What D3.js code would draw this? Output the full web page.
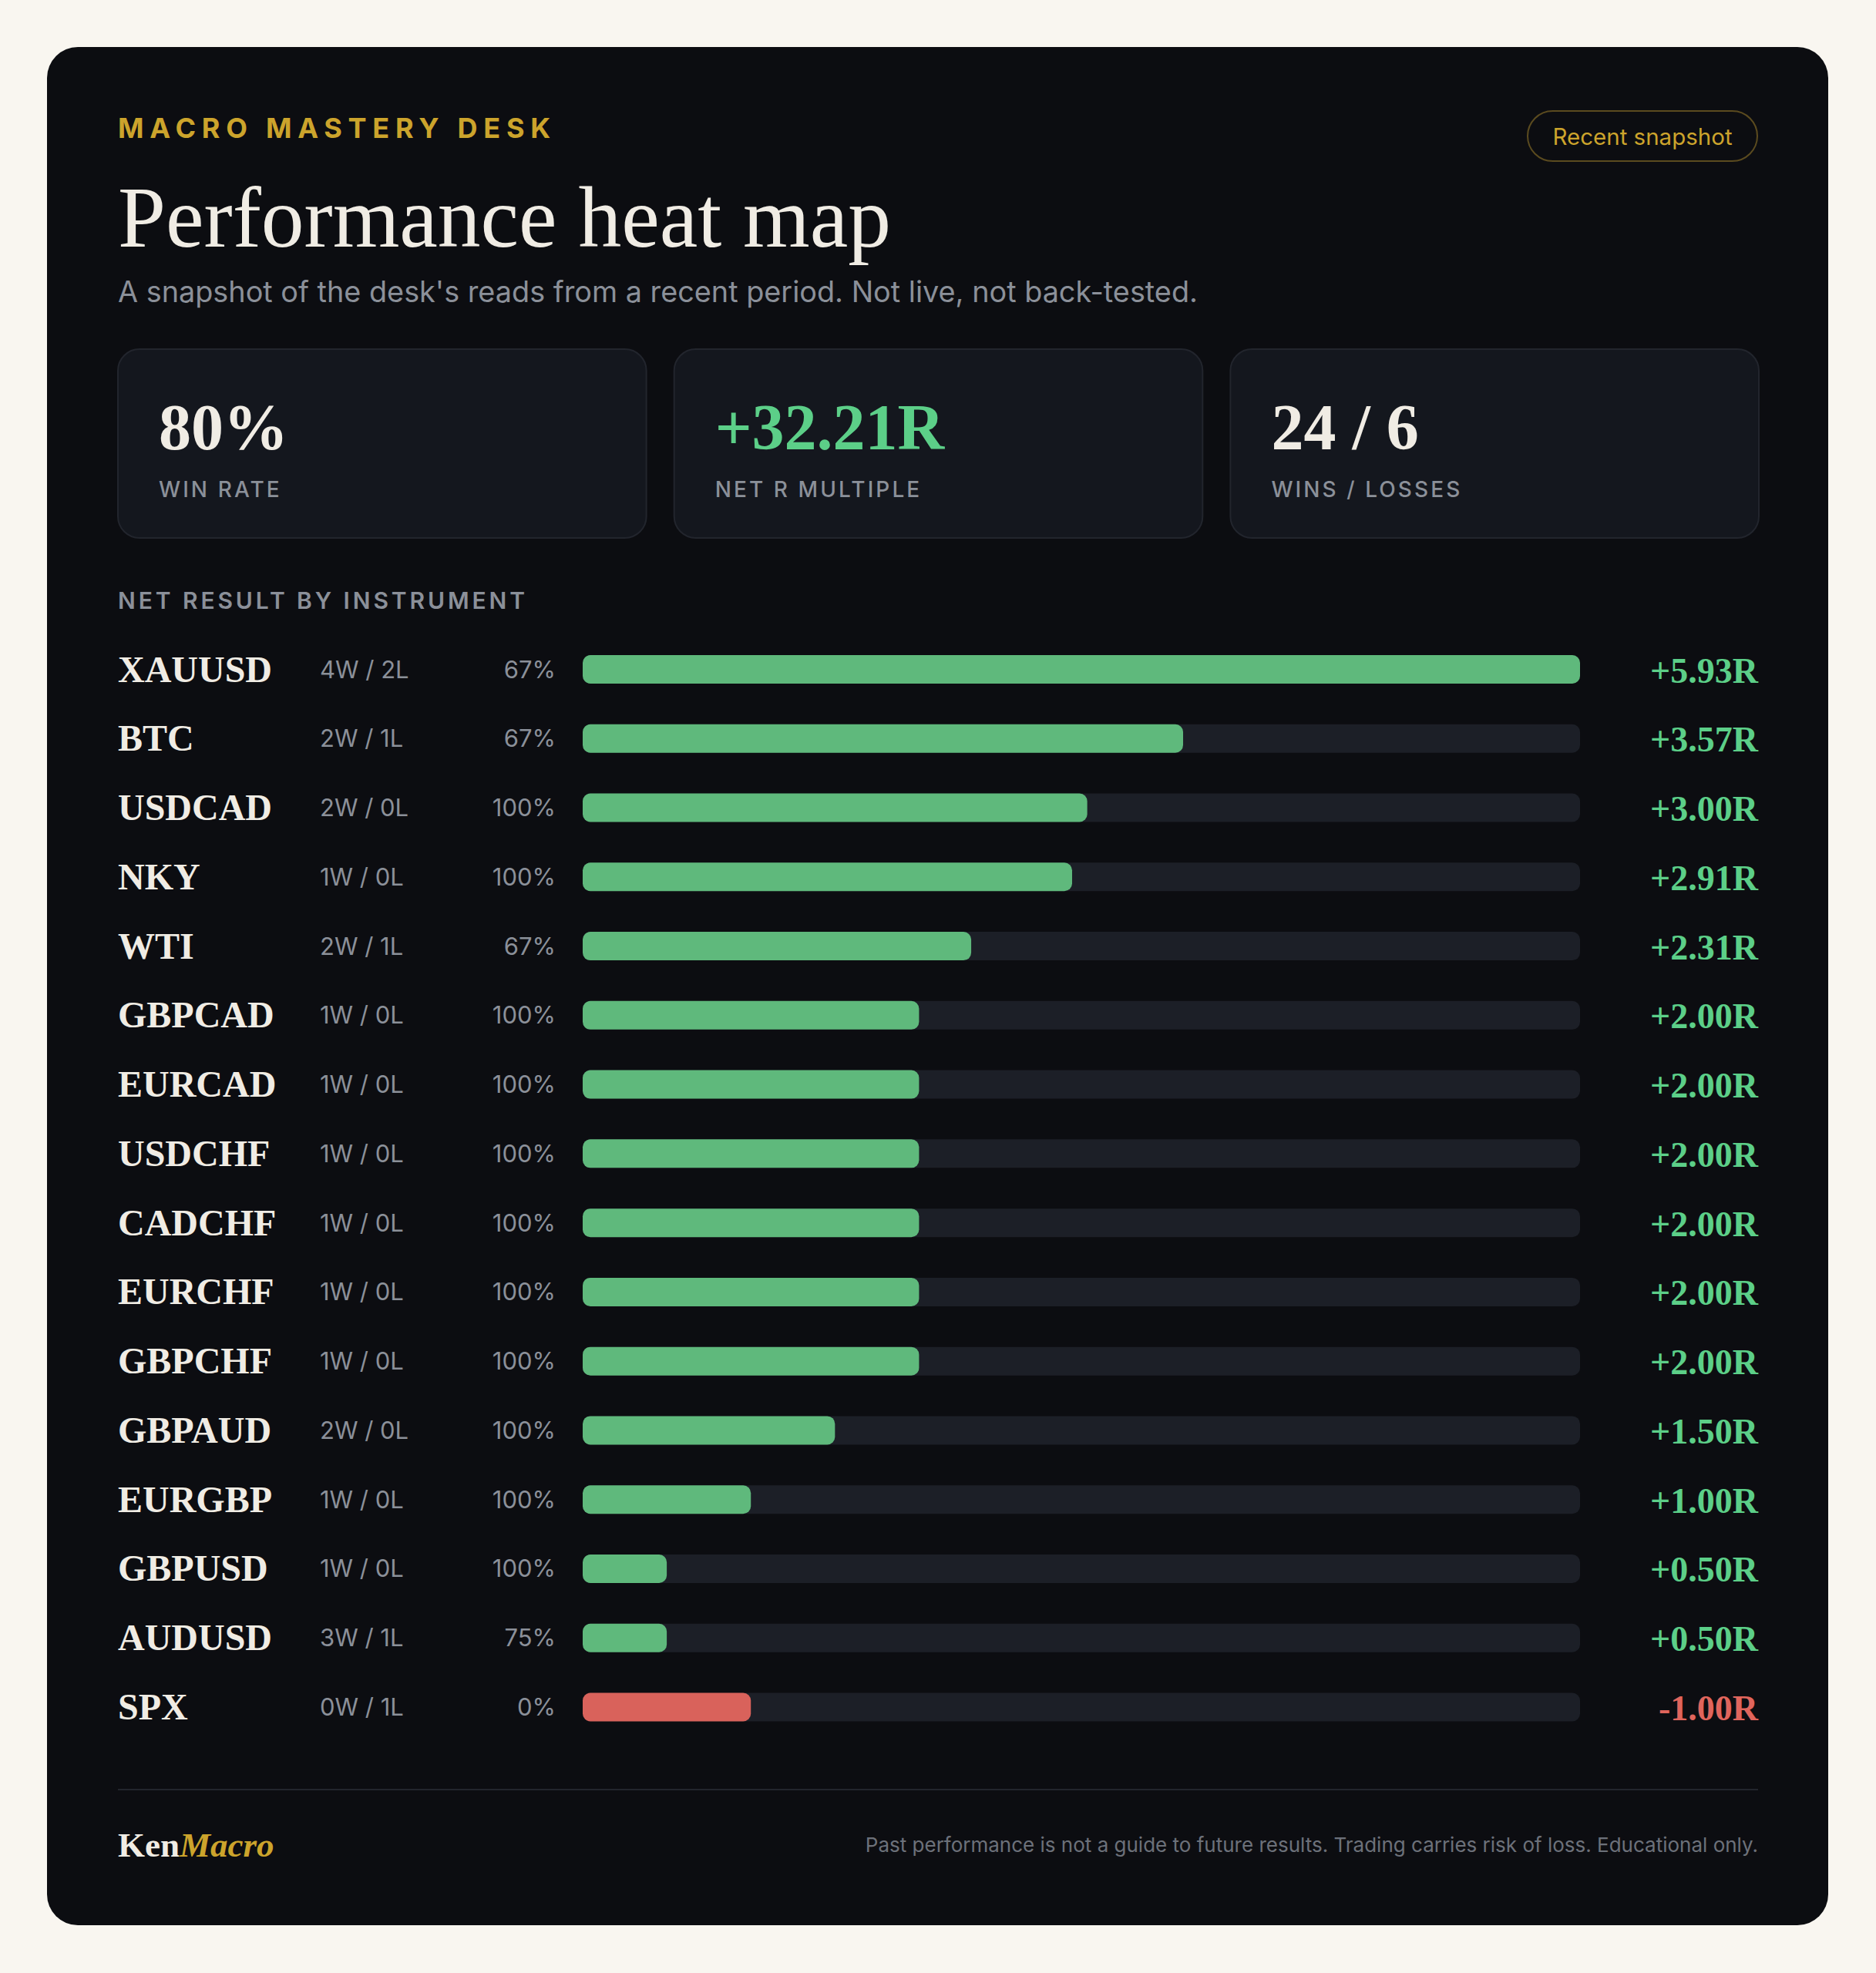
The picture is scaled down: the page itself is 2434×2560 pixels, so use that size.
<!DOCTYPE html>
<html>
<head>
<meta charset="utf-8">
<script src="https://cdn.jsdelivr.net/npm/d3@7"></script>
<style>
  body { margin: 0; background: #f9f6f0; }
  svg { display: block; }
</style>
</head>
<body>
<div id="chart"></div>
<script>
// data
const instruments = ["XAUUSD", "BTC", "USDCAD", "NKY", "WTI", "GBPCAD", "EURCAD", "USDCHF",
  "CADCHF", "EURCHF", "GBPCHF", "GBPAUD", "EURGBP", "GBPUSD", "AUDUSD", "SPX"]
const wins = [4, 2, 2, 1, 2, 1, 1, 1, 1, 1, 1, 2, 1, 1, 3, 0]
const losses = [2, 1, 0, 0, 1, 0, 0, 0, 0, 0, 0, 0, 0, 0, 1, 1]
const netR = [5.93, 3.57, 3.00, 2.91, 2.31, 2.00, 2.00, 2.00, 2.00, 2.00, 2.00, 1.50, 1.00, 0.50, 0.50, -1.00]

const statValues = ["80%", "+32.21R", "24 / 6"]
const statLabels = ["WIN RATE", "NET R MULTIPLE", "WINS / LOSSES"]

//set svg parameters
const width = 2434
const height = 2560
const left = 153
const right = 2281

const serif = "'Liberation Serif', 'DejaVu Serif', serif"
const sans = "Inter, 'Noto Sans', sans-serif"
const cream = "#f0ece4"
const grey = "#8b9099"
const gold = "#cca42c"
const green = "#5fb97c"
const greenText = "#5ccf88"
const red = "#d9625b"
const redText = "#e0655c"

const svg = d3.select("#chart")
  .append("svg")
  .attr("width", width)
  .attr("height", height)
  .attr("viewBox", `0 0 ${width} ${height}`);

// card background
svg.append("rect")
  .attr("x", 61).attr("y", 61)
  .attr("width", 2311).attr("height", 2437)
  .attr("rx", 40)
  .attr("fill", "#0c0d11");

// header
svg.append("text")
  .attr("x", left).attr("y", 179)
  .style("font-family", sans)
  .style("font-size", "36px")
  .style("font-weight", 700)
  .style("letter-spacing", "0.215em")
  .attr("fill", gold)
  .text("MACRO MASTERY DESK");

svg.append("text")
  .attr("x", left).attr("y", 320)
  .style("font-family", serif)
  .style("font-size", "111.5px")
  .attr("fill", cream)
  .text("Performance heat map");

svg.append("text")
  .attr("x", left).attr("y", 392)
  .style("font-family", sans)
  .style("font-size", "37.8px")
  .attr("fill", grey)
  .text("A snapshot of the desk's reads from a recent period. Not live, not back-tested.");

// pill
svg.append("rect")
  .attr("x", 1982).attr("y", 144)
  .attr("width", 298).attr("height", 65)
  .attr("rx", 32.5)
  .attr("fill", "none")
  .attr("stroke", "#5b4b1f")
  .attr("stroke-width", 2);

svg.append("text")
  .attr("x", 2131).attr("y", 188)
  .attr("text-anchor", "middle")
  .style("font-family", sans)
  .style("font-size", "29.5px")
  .attr("fill", gold)
  .text("Recent snapshot");

// stat cards
const cardX = d3.scaleBand()
  .domain(d3.range(statValues.length))
  .range([left, right + 1])
  .paddingInner(0.05);

const cards = svg.append("g")
  .selectAll("g")
  .data(statValues)
  .join("g")
  .attr("transform", (d, i) => `translate(${cardX(i)},453)`);

cards.append("rect")
  .attr("width", cardX.bandwidth())
  .attr("height", 245)
  .attr("rx", 28)
  .attr("fill", "#14171e")
  .attr("stroke", "#22252d")
  .attr("stroke-width", 2);

cards.append("text")
  .attr("x", 53).attr("y", 130)
  .style("font-family", serif)
  .style("font-size", "84px")
  .style("font-weight", 600)
  .attr("fill", (d, i) => i === 1 ? greenText : cream)
  .text(d => d);

cards.append("text")
  .attr("x", 53).attr("y", 192)
  .style("font-family", sans)
  .style("font-size", "28px")
  .style("font-weight", 500)
  .style("letter-spacing", "0.11em")
  .attr("fill", grey)
  .text((d, i) => statLabels[i]);

// section label
svg.append("text")
  .attr("x", left).attr("y", 790)
  .style("font-family", sans)
  .style("font-size", "30px")
  .style("font-weight", 600)
  .style("letter-spacing", "0.13em")
  .attr("fill", grey)
  .text("NET RESULT BY INSTRUMENT");

// rows
const rows = instruments.map((d, i) => ({
  name: d, w: wins[i], l: losses[i], r: netR[i]
}));

const y = d3.scalePoint()
  .domain(instruments)
  .range([868.5, 2215]);

const trackX0 = 756
const trackX1 = 2050
const barH = 37

const x = d3.scaleLinear()
  .domain([0, d3.max(netR, d => Math.abs(d))])
  .range([0, trackX1 - trackX0]);

const row = svg.append("g")
  .selectAll("g")
  .data(rows)
  .join("g")
  .attr("transform", d => `translate(0,${y(d.name)})`);

row.append("text")
  .attr("x", left).attr("y", 16)
  .style("font-family", serif)
  .style("font-size", "48px")
  .style("font-weight", 600)
  .attr("fill", cream)
  .text(d => d.name);

row.append("text")
  .attr("x", 415).attr("y", 11)
  .style("font-family", sans)
  .style("font-size", "31px")
  .attr("fill", grey)
  .text(d => `${d.w}W / ${d.l}L`);

row.append("text")
  .attr("x", 721).attr("y", 11)
  .attr("text-anchor", "end")
  .style("font-family", sans)
  .style("font-size", "31px")
  .attr("fill", grey)
  .text(d => d3.format(".0%")(d.w / (d.w + d.l)));

row.append("rect")
  .attr("x", trackX0).attr("y", -barH / 2)
  .attr("width", trackX1 - trackX0).attr("height", barH)
  .attr("rx", 10)
  .attr("fill", "#1c1f27");

row.append("rect")
  .attr("x", trackX0).attr("y", -barH / 2)
  .attr("width", d => x(Math.abs(d.r))).attr("height", barH)
  .attr("rx", 10)
  .attr("fill", d => d.r < 0 ? red : green);

row.append("text")
  .attr("x", right).attr("y", 17)
  .attr("text-anchor", "end")
  .style("font-family", serif)
  .style("font-size", "46px")
  .style("font-weight", 600)
  .attr("fill", d => d.r < 0 ? redText : greenText)
  .text(d => (d.r < 0 ? "-" : "+") + d3.format(".2f")(Math.abs(d.r)) + "R");

// footer
svg.append("line")
  .attr("x1", left).attr("x2", right)
  .attr("y1", 2322).attr("y2", 2322)
  .attr("stroke", "#22252d")
  .attr("stroke-width", 2);

const brand = svg.append("text")
  .attr("x", left).attr("y", 2409)
  .style("font-family", serif)
  .style("font-size", "45px")
  .style("font-weight", 600);
brand.append("tspan").attr("fill", cream).text("Ken");
brand.append("tspan").attr("fill", gold).style("font-style", "italic").text("Macro");

svg.append("text")
  .attr("x", right).attr("y", 2403)
  .attr("text-anchor", "end")
  .style("font-family", sans)
  .style("font-size", "26px")
  .attr("fill", "#6c717a")
  .text("Past performance is not a guide to future results. Trading carries risk of loss. Educational only.");
</script>
</body>
</html>
